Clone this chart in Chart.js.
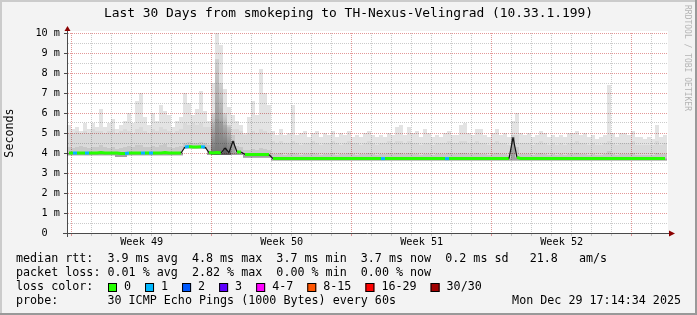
<!DOCTYPE html>
<html>
<head>
<meta charset="utf-8">
<script src="https://cdn.jsdelivr.net/npm/chart.js@4.4.1/dist/chart.umd.min.js"></script>
<style>
  html, body { margin: 0; padding: 0; background: #f3f3f3; }
</style>
</head>
<body>
<canvas id="smoke" width="697" height="315"></canvas>
<script>
const FONT = '"DejaVu Sans Mono", monospace';

// 150 slots of 0.2 day each (30 days), values in ms
const slotDays = 0.2;

const maxRtt = [
    5.4, 5.2, 5.3, 5.1, 5.5, 5.2, 5.5, 5.3, 6.2, 5.3,
    5.5, 5.7, 5.2, 5.4, 5.6, 6.0, 5.5, 6.6, 7.0, 5.8,
    5.4, 6.0, 5.6, 6.4, 6.1, 5.9, 5.3, 5.6, 5.8, 7.0,
    6.5, 5.9, 6.2, 7.1, 6.1, 5.6, 7.5, 10, 9.4, 7.2,
    6.3, 5.9, 5.6, 5.4, 5.0, 5.8, 6.6, 5.9, 8.2, 7.0,
    6.4, 5.1, 4.9, 5.2, 4.9, 5.0, 6.4, 4.9, 5.0, 5.1,
    4.8, 5.0, 5.1, 4.8, 5.0, 4.9, 5.1, 4.8, 5.0, 4.9,
    5.1, 4.8, 4.9, 4.8, 5.0, 5.1, 4.9, 4.8, 4.9, 4.8,
    5.0, 4.9, 5.3, 5.4, 4.9, 5.3, 5.0, 5.1, 4.8, 5.2,
    5.0, 4.8, 4.9, 4.8, 5.0, 5.1, 4.9, 4.9, 5.4, 5.5,
    5.0, 4.9, 5.2, 5.2, 4.9, 4.8, 5.0, 5.2, 4.9, 5.0,
    4.8, 5.6, 6.0, 5.0, 4.9, 5.0, 4.8, 4.9, 5.1, 5.0,
    4.8, 4.9, 4.8, 4.9, 4.8, 5.0, 5.0, 5.1, 4.9, 5.0,
    4.8, 4.9, 4.7, 4.8, 4.9, 7.4, 5.0, 4.8, 5.0, 5.0,
    4.9, 5.1, 4.8, 4.8, 4.7, 4.8, 4.7, 5.4, 4.8, 4.9,
];

const bodyTop = [
    5.0, 5.0, 5.1, 5.0, 5.1, 5.0, 5.2, 5.1, 5.1, 5.0,
    5.1, 5.2, 5.0, 5.1, 5.2, 5.1, 5.0, 5.2, 5.3, 5.1,
    5.0, 5.2, 5.1, 5.3, 5.2, 5.1, 5.0, 5.1, 5.2, 5.5,
    5.4, 5.5, 5.4, 5.5, 5.3, 5.3, 5.5, 5.7, 5.6, 5.4,
    5.3, 5.2, 5.2, 5.1, 4.9, 5.0, 5.1, 5.0, 5.2, 5.1,
    5.0, 4.6, 4.5, 4.6, 4.5, 4.5, 4.6, 4.5, 4.4, 4.5,
    4.5, 4.6, 4.5, 4.4, 4.5, 4.5, 4.6, 4.5, 4.4, 4.5,
    4.6, 4.5, 4.5, 4.4, 4.5, 4.6, 4.5, 4.4, 4.5, 4.5,
    4.6, 4.5, 4.6, 4.6, 4.5, 4.6, 4.5, 4.5, 4.4, 4.5,
    4.5, 4.4, 4.5, 4.5, 4.5, 4.6, 4.5, 4.5, 4.6, 4.6,
    4.5, 4.5, 4.6, 4.5, 4.5, 4.4, 4.5, 4.6, 4.5, 4.5,
    4.4, 4.8, 4.9, 4.5, 4.5, 4.5, 4.4, 4.5, 4.6, 4.5,
    4.4, 4.5, 4.4, 4.5, 4.4, 4.5, 4.5, 4.6, 4.5, 4.5,
    4.4, 4.5, 4.4, 4.4, 4.5, 4.6, 4.5, 4.4, 4.5, 4.5,
    4.5, 4.6, 4.4, 4.4, 4.4, 4.4, 4.4, 4.6, 4.4, 4.5,
];

const denseTop = [
    4.3, 4.25, 4.3, 4.35, 4.3, 4.25, 4.3, 4.3, 4.4, 4.3,
    4.25, 4.3, 4.2, 4.25, 4.3, 4.35, 4.3, 4.4, 4.4, 4.3,
    4.3, 4.35, 4.3, 4.4, 4.45, 4.3, 4.25, 4.3, 4.35, 4.5,
    4.55, 4.5, 4.5, 4.55, 4.5, 4.4, 6.0, 8.7, 7.5, 6.0,
    5.4, 4.9, 4.35, 4.3, 4.15, 4.15, 4.2, 4.15, 4.25, 4.2,
    4.15, 3.95, 3.95, 4.0, 3.9, 3.95, 4.0, 3.95, 3.9, 3.95,
    3.95, 4.0, 3.95, 3.9, 3.95, 3.95, 4.0, 3.9, 3.95, 3.95,
    4.0, 3.95, 3.9, 3.95, 3.95, 4.0, 3.95, 3.9, 3.95, 3.95,
    4.0, 3.95, 4.0, 4.0, 3.95, 4.0, 3.95, 3.95, 3.9, 3.95,
    3.95, 3.9, 3.95, 3.95, 3.95, 4.0, 3.95, 3.95, 4.0, 4.0,
    3.95, 3.95, 4.0, 3.95, 3.95, 3.9, 3.95, 4.0, 3.95, 3.95,
    3.9, 4.9, 4.3, 3.95, 3.95, 3.95, 3.9, 3.95, 4.0, 3.95,
    3.9, 3.95, 3.9, 3.95, 3.9, 3.95, 3.95, 4.0, 3.95, 3.95,
    3.9, 3.95, 3.9, 3.9, 3.95, 4.1, 3.95, 3.9, 3.95, 3.95,
    3.95, 4.0, 3.9, 3.9, 3.9, 3.9, 3.9, 4.0, 3.95, 3.95,
];

const median = [
    4.0, 4.0, 4.0, 4.0, 4.0, 4.0, 4.0, 4.0, 4.02, 4.0,
    4.0, 4.0, 4.0, 3.97, 3.97, 4.0, 4.0, 4.0, 4.0, 4.0,
    4.0, 4.0, 4.0, 4.0, 4.02, 4.0, 4.0, 4.0, 4.0, 4.3,
    4.32, 4.3, 4.3, 4.31, 4.3, 4.02, 4.0, 4.03, 4.0, 4.25,
    4.02, 4.6, 4.05, 4.05, 3.92, 3.92, 3.92, 3.92, 3.92, 3.92,
    3.92, 3.72, 3.72, 3.72, 3.72, 3.72, 3.72, 3.72, 3.72, 3.72,
    3.72, 3.72, 3.72, 3.72, 3.72, 3.72, 3.72, 3.72, 3.72, 3.72,
    3.72, 3.72, 3.72, 3.72, 3.72, 3.72, 3.72, 3.72, 3.72, 3.72,
    3.72, 3.72, 3.72, 3.72, 3.72, 3.72, 3.72, 3.72, 3.72, 3.72,
    3.72, 3.72, 3.72, 3.72, 3.72, 3.72, 3.72, 3.72, 3.72, 3.72,
    3.72, 3.72, 3.72, 3.72, 3.72, 3.72, 3.72, 3.72, 3.72, 3.72,
    3.72, 4.78, 3.78, 3.72, 3.72, 3.72, 3.72, 3.72, 3.72, 3.72,
    3.72, 3.72, 3.72, 3.72, 3.72, 3.72, 3.72, 3.72, 3.72, 3.72,
    3.72, 3.72, 3.72, 3.72, 3.72, 3.72, 3.72, 3.72, 3.72, 3.72,
    3.72, 3.72, 3.72, 3.72, 3.72, 3.72, 3.72, 3.72, 3.72, 3.72,
];

const minRtt = [
    3.88, 3.88, 3.88, 3.88, 3.88, 3.88, 3.88, 3.88, 3.88, 3.88,
    3.88, 3.88, 3.8, 3.8, 3.8, 3.88, 3.88, 3.88, 3.88, 3.88,
    3.88, 3.88, 3.88, 3.88, 3.88, 3.88, 3.88, 3.88, 3.88, 4.22,
    4.22, 4.22, 4.22, 4.22, 4.2, 3.9, 3.9, 3.9, 3.9, 3.9,
    3.9, 3.9, 3.9, 3.9, 3.76, 3.76, 3.76, 3.76, 3.76, 3.76,
    3.76, 3.62, 3.62, 3.62, 3.62, 3.62, 3.62, 3.62, 3.62, 3.62,
    3.62, 3.62, 3.62, 3.62, 3.62, 3.62, 3.62, 3.62, 3.62, 3.62,
    3.62, 3.62, 3.62, 3.62, 3.62, 3.62, 3.62, 3.62, 3.62, 3.62,
    3.62, 3.62, 3.62, 3.62, 3.62, 3.62, 3.62, 3.62, 3.62, 3.62,
    3.62, 3.62, 3.62, 3.62, 3.62, 3.62, 3.62, 3.62, 3.62, 3.62,
    3.62, 3.62, 3.62, 3.62, 3.62, 3.62, 3.62, 3.62, 3.62, 3.62,
    3.62, 3.62, 3.62, 3.62, 3.62, 3.62, 3.62, 3.62, 3.62, 3.62,
    3.62, 3.62, 3.62, 3.62, 3.62, 3.62, 3.62, 3.62, 3.62, 3.62,
    3.62, 3.62, 3.62, 3.62, 3.62, 3.62, 3.62, 3.62, 3.62, 3.62,
    3.62, 3.62, 3.62, 3.62, 3.62, 3.62, 3.62, 3.62, 3.62, 3.62,
];

// lost pings (of 30) per slot
const lossCount = [
    0, 1, 0, 0, 1, 0, 0, 0, 0, 0,
    0, 0, 0, 0, 1, 0, 0, 0, 1, 0,
    1, 0, 0, 0, 0, 0, 0, 0, 0, 1,
    0, 0, 0, 1, 0, 0, 0, 0, 1, 0,
    0, 0, 0, 0, 0, 0, 0, 0, 0, 0,
    0, 0, 0, 0, 0, 0, 0, 0, 0, 0,
    0, 0, 0, 0, 0, 0, 0, 0, 0, 0,
    0, 0, 0, 0, 0, 0, 0, 0, 1, 0,
    0, 0, 0, 0, 0, 0, 0, 0, 0, 0,
    0, 0, 0, 0, 1, 0, 0, 0, 0, 0,
    0, 0, 0, 0, 0, 0, 0, 0, 0, 0,
    0, 1, 0, 0, 0, 0, 0, 0, 0, 0,
    0, 0, 0, 0, 0, 0, 0, 0, 0, 0,
    0, 0, 0, 0, 0, 0, 0, 0, 0, 0,
    0, 0, 0, 0, 0, 0, 0, 0, 0, 0,
];

const firstMonday = 0.235; // days from graph start to Monday 00:00
const weekLabels = ['Week 49', 'Week 50', 'Week 51', 'Week 52'];
const yLabelValues = [0, 1, 2, 3, 4, 5, 6, 7, 8, 9, 10];

const lossLabels = ['0', '1', '2', '3', '4-7', '8-15', '16-29', '30/30'];
const lossColors = ['#26ff00', '#00b8ff', '#0059ff', '#5e00ff', '#ff00ff', '#ff5500', '#ff0000', '#a00000'];
const lossUpper = [0, 1, 2, 3, 7, 15, 29, 30];

const titleText = 'Last 30 Days from smokeping to TH-Nexus-Velingrad (10.33.1.199)';
const legendLines = [
    'median rtt:  3.9 ms avg  4.8 ms max  3.7 ms min  3.7 ms now  0.2 ms sd   21.8   am/s',
    'packet loss: 0.01 % avg  2.82 % max  0.00 % min  0.00 % now',
];
const probeText = 'probe:       30 ICMP Echo Pings (1000 Bytes) every 60s';
const stampText = 'Mon Dec 29 17:14:34 2025';

const MAJOR = 'rgba(200,50,50,0.5)';
const MINOR = 'rgba(140,140,140,0.45)';
const AXIS = '#4a4a4a';

function lossColor(n) {
    const k = lossUpper.findIndex(u => n <= u);
    return lossColors[k < 0 ? lossColors.length - 1 : k];
}

// a jump of the median between two slots is drawn as a thin black stroke
const isJump = c => Math.abs(c.p1.parsed.y - c.p0.parsed.y) > 0.12;

const slotTimes = median.map((_, i) => (i + 0.5) * slotDays);
const floating = (lo, hi) => slotTimes.map((t, i) => ({ x: t, y: [lo[i], hi[i]] }));

const smokeBar = {
    type: 'bar',
    grouped: false,
    barPercentage: 1,
    categoryPercentage: 1,
    borderWidth: 0,
    inflateAmount: 0,
    xAxisID: 'x',
    yAxisID: 'y',
};

const framePlugin = {
    id: 'frame',
    beforeDraw(chart) {
        const { ctx, width, height, chartArea: a } = chart;
        ctx.save();
        ctx.fillStyle = '#f3f3f3';
        ctx.fillRect(0, 0, width, height);
        ctx.fillStyle = '#cbcbcb';
        ctx.fillRect(0, 0, width, 2);
        ctx.fillRect(0, 0, 2, height);
        ctx.fillStyle = '#999999';
        ctx.fillRect(0, height - 2, width, 2);
        ctx.fillRect(width - 2, 0, 2, height);
        ctx.fillStyle = '#ffffff';
        ctx.fillRect(a.left, a.top - 2, a.right - a.left + 1, a.bottom - a.top + 2);
        ctx.restore();
    },
    afterDraw(chart) {
        const { ctx, width, chartArea: a } = chart;
        const x0 = a.left;
        ctx.save();

        // axis stubs and arrows
        ctx.strokeStyle = AXIS;
        ctx.lineWidth = 1;
        ctx.beginPath();
        ctx.moveTo(x0 + 0.5, a.top + 1);
        ctx.lineTo(x0 + 0.5, a.top - 3);
        ctx.moveTo(x0 + 0.5, a.bottom);
        ctx.lineTo(x0 + 0.5, a.bottom + 4);
        ctx.moveTo(x0 - 4, a.bottom + 0.5);
        ctx.lineTo(x0, a.bottom + 0.5);
        ctx.moveTo(a.right - 1, a.bottom + 0.5);
        ctx.lineTo(a.right + 3, a.bottom + 0.5);
        ctx.stroke();
        ctx.fillStyle = '#8b0000';
        ctx.beginPath();
        ctx.moveTo(x0 + 0.5, a.top - 7);
        ctx.lineTo(x0 - 2.5, a.top - 2);
        ctx.lineTo(x0 + 3.5, a.top - 2);
        ctx.closePath();
        ctx.fill();
        ctx.beginPath();
        ctx.moveTo(a.right + 8, a.bottom + 0.5);
        ctx.lineTo(a.right + 2, a.bottom - 2.5);
        ctx.lineTo(a.right + 2, a.bottom + 3.5);
        ctx.closePath();
        ctx.fill();

        // title
        ctx.fillStyle = '#000';
        ctx.textBaseline = 'middle';
        ctx.textAlign = 'center';
        ctx.font = '12.9px ' + FONT;
        ctx.fillText(titleText, width / 2, 14);

        // legend block
        ctx.textAlign = 'left';
        ctx.font = '11.7px ' + FONT;
        const rowY = [259, 273, 287, 301];
        ctx.fillText(legendLines[0], 16, rowY[0]);
        ctx.fillText(legendLines[1], 16, rowY[1]);
        ctx.fillText('loss color:', 16, rowY[2]);
        let bx = 108;
        lossLabels.forEach((label, i) => {
            ctx.fillStyle = lossColors[i];
            ctx.fillRect(bx, rowY[2] - 4, 9, 9);
            ctx.strokeStyle = '#000';
            ctx.strokeRect(bx + 0.5, rowY[2] - 3.5, 8, 8);
            ctx.fillStyle = '#000';
            ctx.fillText(label, bx + 16, rowY[2]);
            bx += 16 + ctx.measureText(label).width + 14;
        });
        ctx.fillText(probeText, 16, rowY[3]);
        ctx.textAlign = 'right';
        ctx.fillText(stampText, 681, rowY[3]);

        // watermark
        ctx.translate(687, 5);
        ctx.rotate(Math.PI / 2);
        ctx.textAlign = 'left';
        ctx.fillStyle = '#b4b4b4';
        ctx.font = '8px ' + FONT;
        ctx.fillText('RRDTOOL / TOBI OETIKER', 0, 0);
        ctx.restore();
    },
};

const ctx = document.getElementById('smoke').getContext('2d');

new Chart(ctx, {
    type: 'bar',
    data: {
        datasets: [
            {
                ...smokeBar,
                label: 'median',
                type: 'line',
                data: slotTimes.map((t, i) => ({ x: t, y: median[i] })),
                borderWidth: 3,
                borderJoinStyle: 'bevel',
                pointRadius: 0,
                tension: 0,
                segment: {
                    borderColor: c => (isJump(c) ? '#111' : lossColor(lossCount[c.p0DataIndex])),
                    borderWidth: c => (isJump(c) ? 1.2 : 3),
                },
                order: 0,
            },
            {
                ...smokeBar,
                label: 'floor',
                data: floating(minRtt, median),
                backgroundColor: 'rgba(0,0,0,0.2)',
                order: 1,
            },
            {
                ...smokeBar,
                label: 'dense',
                data: floating(minRtt, denseTop),
                backgroundColor: c => {
                    const i = c.dataIndex;
                    if (i === undefined || denseTop[i] - median[i] < 0.9) return 'rgba(0,0,0,0.08)';
                    const y = c.chart.scales.y;
                    const g = c.chart.ctx.createLinearGradient(0, y.getPixelForValue(median[i]), 0, y.getPixelForValue(denseTop[i]));
                    g.addColorStop(0, 'rgba(0,0,0,0.45)');
                    g.addColorStop(1, 'rgba(0,0,0,0.08)');
                    return g;
                },
                order: 2,
            },
            {
                ...smokeBar,
                label: 'body',
                data: floating(minRtt, bodyTop),
                backgroundColor: 'rgba(0,0,0,0.045)',
                order: 3,
            },
            {
                ...smokeBar,
                label: 'max',
                data: floating(minRtt, maxRtt),
                backgroundColor: 'rgba(0,0,0,0.11)',
                order: 4,
            },
        ],
    },
    options: {
        responsive: false,
        animation: false,
        devicePixelRatio: 1,
        events: [],
        layout: { padding: { left: 0, top: 33, right: 30, bottom: 65 } },
        plugins: {
            legend: { display: false },
            tooltip: { enabled: false },
            title: { display: false },
        },
        scales: {
            x: {
                type: 'linear',
                position: 'bottom',
                weight: 0,
                min: 0,
                max: 30,
                offset: false,
                afterBuildTicks: s => {
                    const ticks = [];
                    for (let k = 0; k < 30; k++) ticks.push({ value: firstMonday + k });
                    s.ticks = ticks;
                },
                afterFit: s => { s.height = 3; },
                ticks: { display: false, autoSkip: false },
                grid: {
                    offset: false,
                    color: c => (c.index % 7 === 0 ? MAJOR : MINOR),
                    tickColor: c => (c.index % 7 === 0 ? MAJOR : MINOR),
                    tickLength: 3,
                },
                border: { display: true, color: AXIS, dash: [1, 1] },
            },
            xw: {
                type: 'linear',
                position: 'bottom',
                weight: 1,
                min: 0,
                max: 30,
                offset: false,
                afterBuildTicks: s => {
                    s.ticks = weekLabels.map((_, k) => ({ value: firstMonday + 3.5 + 7 * k }));
                },
                afterFit: s => { s.height = 14; },
                ticks: {
                    autoSkip: false,
                    maxRotation: 0,
                    padding: 0,
                    color: '#000',
                    font: { family: FONT, size: 10.2 },
                    callback: (v, i) => weekLabels[i],
                },
                grid: { display: false, drawTicks: false, offset: false },
                border: { display: false },
            },
            y: {
                type: 'linear',
                min: 0,
                max: 10,
                afterBuildTicks: s => {
                    s.ticks = [];
                    yLabelValues.forEach(v => {
                        s.ticks.push({ value: v });
                        if (v < 10) s.ticks.push({ value: v + 0.5 });
                    });
                },
                afterFit: s => { s.width = 67; },
                ticks: {
                    autoSkip: false,
                    padding: 4,
                    color: '#000',
                    font: { family: FONT, size: 10.2 },
                    callback: v => (Number.isInteger(v) ? (v === 0 ? '0  ' : v + ' m') : ''),
                },
                grid: {
                    color: c => (c.tick && Number.isInteger(c.tick.value) ? MAJOR : MINOR),
                    tickColor: c => (c.tick && Number.isInteger(c.tick.value) ? AXIS : 'rgba(0,0,0,0)'),
                    tickLength: 3,
                },
                border: { display: true, color: AXIS, dash: [1, 1] },
                title: {
                    display: true,
                    text: 'Seconds',
                    color: '#000',
                    font: { family: FONT, size: 11.7 },
                    padding: { top: 3, bottom: 0 },
                },
            },
        },
    },
    plugins: [framePlugin],
});
</script>
</body>
</html>
